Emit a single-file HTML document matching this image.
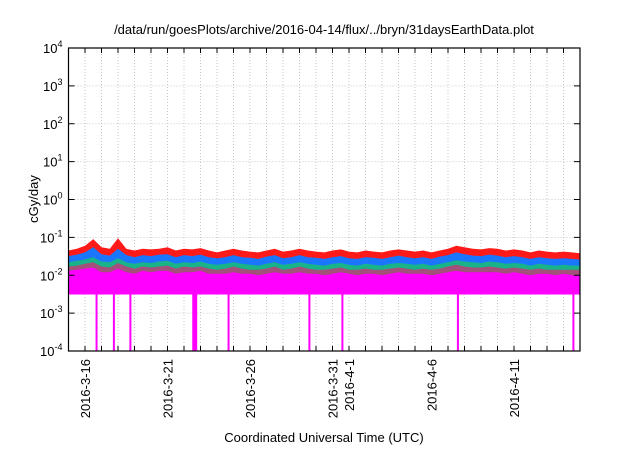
<!DOCTYPE html>
<html><head><meta charset="utf-8"><style>
body{margin:0;background:#fff;width:640px;height:448px;overflow:hidden}
svg{font-family:"Liberation Sans",sans-serif}
</style></head><body>
<svg id="chart" width="640" height="448" viewBox="0 0 640 448" xmlns="http://www.w3.org/2000/svg">
<text x="324" y="34" font-size="13" text-anchor="middle">/data/run/goesPlots/archive/2016-04-14/flux/../bryn/31daysEarthData.plot</text>
<text transform="translate(38,199) rotate(-90)" font-size="13" text-anchor="middle">cGy/day</text>
<text x="324" y="442" font-size="13" text-anchor="middle">Coordinated Universal Time (UTC)</text>
<g id="grid"></g>
<g id="series"></g>
<g id="axes"></g>
</svg>
<script>
const yTicks=[4,3,2,1,0,-1,-2,-3,-4];
const xTickDays=[1,6,11,16,17,22,27];
const xTickLabels=["2016-3-16","2016-3-21","2016-3-26","2016-3-31","2016-4-1","2016-4-6","2016-4-11"];
const redTop=[0.045,0.05,0.06,0.09,0.055,0.05,0.095,0.05,0.045,0.05,0.048,0.05,0.055,0.045,0.05,0.048,0.052,0.045,0.04,0.045,0.05,0.045,0.042,0.04,0.045,0.05,0.042,0.045,0.05,0.045,0.042,0.04,0.045,0.048,0.042,0.04,0.045,0.042,0.04,0.045,0.048,0.045,0.042,0.045,0.04,0.045,0.05,0.06,0.055,0.05,0.048,0.052,0.05,0.045,0.048,0.045,0.04,0.045,0.042,0.04,0.042,0.04,0.038];
const blueTop=[0.032,0.035,0.04,0.055,0.036,0.033,0.05,0.034,0.03,0.034,0.032,0.035,0.036,0.03,0.034,0.032,0.035,0.03,0.028,0.03,0.034,0.03,0.029,0.027,0.031,0.034,0.028,0.03,0.034,0.03,0.029,0.027,0.03,0.032,0.028,0.027,0.03,0.029,0.027,0.03,0.033,0.03,0.028,0.03,0.027,0.031,0.034,0.04,0.036,0.033,0.032,0.035,0.033,0.03,0.032,0.03,0.027,0.03,0.028,0.027,0.028,0.027,0.026];
const greenTop=[0.022,0.024,0.026,0.03,0.023,0.022,0.028,0.022,0.02,0.022,0.021,0.023,0.024,0.02,0.022,0.021,0.023,0.02,0.019,0.02,0.022,0.02,0.019,0.018,0.02,0.022,0.019,0.02,0.022,0.02,0.019,0.018,0.02,0.021,0.019,0.018,0.02,0.019,0.018,0.02,0.021,0.02,0.019,0.02,0.018,0.02,0.022,0.025,0.023,0.022,0.021,0.023,0.022,0.02,0.021,0.02,0.018,0.02,0.019,0.018,0.019,0.018,0.018];
const purpleTop=[0.017,0.018,0.02,0.022,0.017,0.016,0.021,0.017,0.015,0.017,0.016,0.017,0.018,0.015,0.017,0.016,0.017,0.015,0.014,0.015,0.017,0.015,0.014,0.014,0.015,0.017,0.014,0.015,0.017,0.015,0.014,0.014,0.015,0.016,0.014,0.014,0.015,0.014,0.014,0.015,0.016,0.015,0.014,0.015,0.014,0.015,0.017,0.019,0.017,0.016,0.016,0.017,0.016,0.015,0.016,0.015,0.014,0.015,0.014,0.014,0.014,0.014,0.014];
const magentaTop=[0.013,0.014,0.015,0.016,0.012,0.012,0.015,0.012,0.011,0.013,0.012,0.013,0.013,0.011,0.012,0.012,0.013,0.011,0.011,0.011,0.012,0.011,0.011,0.01,0.011,0.012,0.011,0.011,0.012,0.011,0.011,0.01,0.011,0.012,0.011,0.01,0.011,0.011,0.01,0.011,0.012,0.011,0.011,0.011,0.01,0.011,0.012,0.013,0.012,0.012,0.012,0.012,0.012,0.011,0.012,0.011,0.01,0.011,0.011,0.01,0.011,0.01,0.01];
const magentaFloor=0.0031;
const dipDays=[1.7,2.75,3.75,7.65,9.7,14.6,16.6,23.6,30.6];
const dipWidths=[0.12,0.12,0.12,0.3,0.12,0.12,0.12,0.12,0.12];
const dipMin=0.0001;

const L=68.5,R=580,T=48,B=351,NS="http://www.w3.org/2000/svg";
const xs=d=>L+(R-L)*d/31;
const ys=v=>T+(4-Math.log10(v))*(B-T)/8;
function mk(tag,attrs,parent){const e=document.createElementNS(NS,tag);for(const k in attrs)e.setAttribute(k,attrs[k]);parent.appendChild(e);return e;}
const grid=document.getElementById('grid'),ser=document.getElementById('series'),ax=document.getElementById('axes');
for(let d=1;d<31;d++){const l=mk('line',{x1:xs(d),x2:xs(d),y1:T,y2:B,stroke:'#bbb','stroke-dasharray':'1,2','stroke-width':0.8},grid);

}
yTicks.forEach(p=>{if(p===4||p===-4)return;const l=mk('line',{x1:L,x2:R,y1:ys(Math.pow(10,p)),y2:ys(Math.pow(10,p)),stroke:'#bbb','stroke-dasharray':'1,2','stroke-width':0.8},grid);

});
function area(arr,color,name){const n=arr.length;let d='M'+xs(0)+','+ys(magentaFloor);
arr.forEach((v,i)=>{const x=xs(i*31/(n-1));d+=' L'+x.toFixed(1)+','+ys(v).toFixed(1);});
d+=' L'+xs(31)+','+ys(magentaFloor)+' Z';
const p=mk('path',{d:d,fill:color},ser);

}
area(redTop,'#ff1a1a','series-red');
area(blueTop,'#1a75ff','series-blue');
area(greenTop,'#19b38a','series-green');
area(purpleTop,'#a3507a','series-purple');
area(magentaTop,'#ff00ff','series-magenta');
dipDays.forEach((d,i)=>{const x1=xs(d-dipWidths[i]/2),x2=xs(d+dipWidths[i]/2);
const r=mk('rect',{x:x1,y:ys(magentaFloor),width:Math.max(2,x2-x1),height:ys(dipMin)-ys(magentaFloor),fill:'#ff00ff'},ser);

});
const fr=mk('rect',{x:L,y:T,width:R-L,height:B-T,fill:'none',stroke:'#000','stroke-width':1.2},ax);


yTicks.forEach(p=>{const y=ys(Math.pow(10,p));
mk('line',{x1:L,x2:L+6,y1:y,y2:y,stroke:'#000'},ax);mk('line',{x1:R-6,x2:R,y1:y,y2:y,stroke:'#000'},ax);
const t=mk('text',{x:L-6,y:y+5,'font-size':13,'text-anchor':'end'},ax);


t.innerHTML='10<tspan dy="-6" font-size="9">'+p+'</tspan>';});
for(let d=1;d<31;d++){const x=xs(d);mk('line',{x1:x,x2:x,y1:B,y2:B-5,stroke:'#000'},ax);mk('line',{x1:x,x2:x,y1:T,y2:T+5,stroke:'#000'},ax);}
xTickDays.forEach((d,i)=>{const x=xs(d);
const t=mk('text',{transform:'translate('+(x+5)+',359) rotate(-90)','font-size':13,'text-anchor':'end'},ax);


t.textContent=xTickLabels[i];});
</script>
</body></html>
